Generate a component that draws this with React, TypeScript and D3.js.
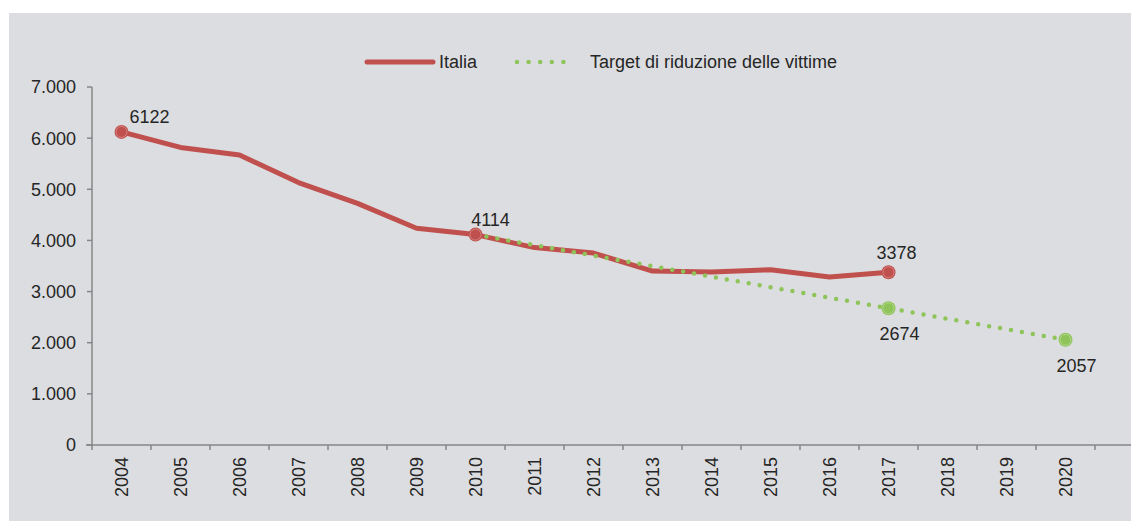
import * as d3 from "d3";

const years = [
  "2004", "2005", "2006", "2007", "2008", "2009", "2010", "2011", "2012",
  "2013", "2014", "2015", "2016", "2017", "2018", "2019", "2020",
];

const italiaYears = [
  "2004", "2005", "2006", "2007", "2008", "2009", "2010",
  "2011", "2012", "2013", "2014", "2015", "2016", "2017",
];
const italiaValues = [6122, 5818, 5669, 5131, 4725, 4237, 4114, 3860, 3753, 3401, 3381, 3428, 3283, 3378];

const targetYears = ["2010", "2011", "2012", "2013", "2014", "2015", "2016", "2017", "2018", "2019", "2020"];
const targetValues = [4114, 3908, 3703, 3497, 3291, 3086, 2880, 2674, 2468, 2263, 2057];

const yTicks = [0, 1000, 2000, 3000, 4000, 5000, 6000, 7000];
const yTickLabels = ["0", "1.000", "2.000", "3.000", "4.000", "5.000", "6.000", "7.000"];

// labelled markers: series, year, value, label offset (dx, dy)
const markers = [
  { s: "italia", year: "2004", value: 6122, dx: 28, dy: -9 },
  { s: "italia", year: "2010", value: 4114, dx: 15, dy: -9 },
  { s: "italia", year: "2017", value: 3378, dx: 8, dy: -13 },
  { s: "target", year: "2017", value: 2674, dx: 11, dy: 32 },
  { s: "target", year: "2020", value: 2057, dx: 11, dy: 32 },
];

const W = 1131;
const H = 521;
const RED = "#c0504d";
const GREEN = "#8fc45a";
const TEXT = "#262626";
const AXIS = "#868686";
const FONT = "'Liberation Sans', Arial, sans-serif";
const FS = 18;

export default function App() {
  const margin = { left: 92, right: 36, top: 87, bottom: 76 };

  const x = d3
    .scaleBand<string>()
    .domain(years)
    .range([margin.left, W - margin.right])
    .padding(0);

  const y = d3
    .scaleLinear()
    .domain([0, 7000])
    .range([H - margin.bottom, margin.top]);

  const cx = (yr: string) => (x(yr) ?? 0) + x.bandwidth() / 2;

  const line = d3
    .line<[string, number]>()
    .x((d) => cx(d[0]))
    .y((d) => y(d[1]));

  const italiaPath = line(italiaYears.map((yr, i) => [yr, italiaValues[i]] as [string, number])) ?? "";
  const targetPath = line(targetYears.map((yr, i) => [yr, targetValues[i]] as [string, number])) ?? "";

  const y0 = y(0);

  return (
    <div style={{ position: "fixed", left: 0, top: 0 }}>
      <svg width={W} height={H} style={{ display: "block", fontFamily: FONT }}>
        <rect x={0} y={0} width={W} height={H} fill="#ffffff" />
        <rect x={9} y={13} width={W - 9} height={H - 13} fill="#dcdde0" />

        {/* legend */}
        <g>
          <line x1={367} x2={433} y1={62} y2={62} stroke={RED} strokeWidth={5} strokeLinecap="round" />
          <text x={439} y={68} fontSize={FS} fill={TEXT}>Italia</text>
          <line
            x1={517}
            x2={575}
            y1={62}
            y2={62}
            stroke={GREEN}
            strokeWidth={4.5}
            strokeLinecap="round"
            strokeDasharray="0 11.6"
          />
          <text x={590} y={68} fontSize={FS} fill={TEXT}>Target di riduzione delle vittime</text>
        </g>

        {/* y axis */}
        <line x1={margin.left} x2={margin.left} y1={y(7000)} y2={y0} stroke={AXIS} strokeWidth={1.5} />
        {yTicks.map((t, i) => (
          <g key={t}>
            <line x1={margin.left - 5} x2={margin.left} y1={y(t)} y2={y(t)} stroke={AXIS} strokeWidth={1.5} />
            <text x={76} y={y(t)} dy="0.36em" textAnchor="end" fontSize={FS} fill={TEXT}>
              {yTickLabels[i]}
            </text>
          </g>
        ))}

        {/* x axis */}
        <line x1={margin.left - 6} x2={W} y1={y0} y2={y0} stroke={AXIS} strokeWidth={1.5} />
        {years.map((yr) => (
          <line key={"t" + yr} x1={x(yr) ?? 0} x2={x(yr) ?? 0} y1={y0} y2={y0 + 5} stroke={AXIS} strokeWidth={1.5} />
        ))}
        <line
          x1={W - margin.right}
          x2={W - margin.right}
          y1={y0}
          y2={y0 + 5}
          stroke={AXIS}
          strokeWidth={1.5}
        />
        {years.map((yr) => (
          <text
            key={"l" + yr}
            transform={`translate(${cx(yr)},${y0 + 12}) rotate(-90)`}
            dy="0.36em"
            textAnchor="end"
            fontSize={FS}
            fill={TEXT}
          >
            {yr}
          </text>
        ))}

        {/* series */}
        <path d={italiaPath} fill="none" stroke={RED} strokeWidth={5} strokeLinejoin="round" />
        <path
          d={targetPath}
          fill="none"
          stroke={GREEN}
          strokeWidth={4.5}
          strokeLinecap="round"
          strokeDasharray="0 11.1"
        />

        {markers.map((m) => {
          const col = m.s === "italia" ? RED : GREEN;
          const px = cx(m.year);
          const py = y(m.value);
          return (
            <g key={m.s + m.year}>
              <circle cx={px} cy={py} r={7} fill={col} />
              <circle cx={px} cy={py} r={5.5} fill="none" stroke="#ffffff" strokeOpacity={0.35} strokeWidth={0.8} />
              <text x={px + m.dx} y={py + m.dy} textAnchor="middle" fontSize={FS} fill={TEXT}>
                {m.value}
              </text>
            </g>
          );
        })}
      </svg>
    </div>
  );
}
